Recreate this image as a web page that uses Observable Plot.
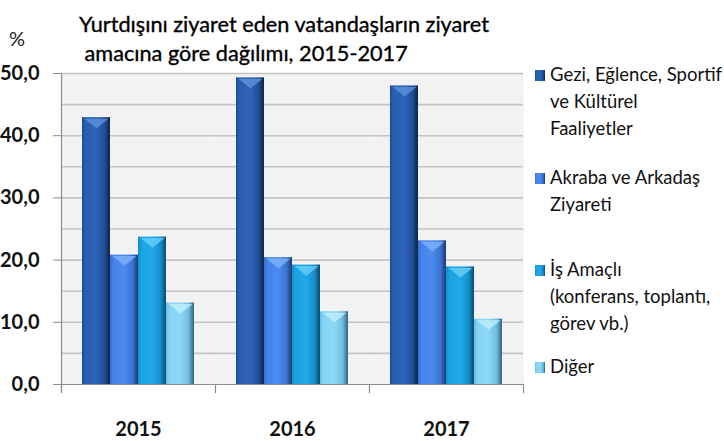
<!DOCTYPE html>
<html><head><meta charset="utf-8">
<script src="https://cdn.jsdelivr.net/npm/d3@7"></script>
<script src="https://cdn.jsdelivr.net/npm/@observablehq/plot@0.6"></script>
<style>
body{margin:0;background:#fff;}
#wrap{position:relative;width:724px;height:441px;overflow:hidden;font-family:Lato,"Open Sans",sans-serif;color:#111;}
#chart{position:absolute;left:0;top:0;}
.title{position:absolute;left:79px;top:10px;font-size:21.7px;font-weight:normal;line-height:29px;white-space:pre;color:#000;-webkit-text-stroke:0.35px #000;}
.pct{position:absolute;left:9px;top:26px;font-size:20px;color:#222;}
.leg{position:absolute;left:535px;font-size:18.5px;line-height:27px;color:#111;white-space:nowrap;}
.leg .sw{position:absolute;left:0;top:9px;width:10px;height:11px;}
.leg .tx{position:absolute;left:15px;top:0;}
</style></head><body><div id="wrap"><div id="chart"></div></div>
<script>
const years = ["2015", "2016", "2017"];
const categories = [
  "Gezi, Eğlence, Sportif ve Kültürel Faaliyetler",
  "Akraba ve Arkadaş Ziyareti",
  "İş Amaçlı (konferans, toplantı, görev vb.)",
  "Diğer"
];
const gezi   = [42.9, 49.3, 48.0];
const akraba = [20.8, 20.4, 23.1];
const isAmacli = [23.7, 19.2, 18.9];
const diger  = [13.1, 11.7, 10.5];
const yTicks = [0, 10, 20, 30, 40, 50];
const gridValues = [5, 10, 15, 20, 25, 30, 35, 40, 45, 50];
const titleLines = ["Yurtdışını ziyaret eden vatandaşların ziyaret", " amacına göre dağılımı, 2015-2017"];
const legendLines = [
  ["Gezi, Eğlence, Sportif", "ve Kültürel", "Faaliyetler"],
  ["Akraba ve Arkadaş", "Ziyareti"],
  ["İş Amaçlı", "(konferans, toplantı,", "görev vb.)"],
  ["Diğer"]
];

const series = [gezi, akraba, isAmacli, diger];
const rows = [];
years.forEach((yr, i) => categories.forEach((c, j) => rows.push({year: yr, cat: c, value: series[j][i]})));

const grads = [
  [["0", "#1d4c95"], ["0.12", "#2a5eb0"], ["0.5", "#2d63b8"], ["0.8", "#224f98"], ["1", "#0c2448"]],
  [["0", "#3670cf"], ["0.12", "#4483ea"], ["0.5", "#4b8bf2"], ["0.8", "#3b74d2"], ["1", "#1b3a70"]],
  [["0", "#128ecb"], ["0.12", "#1aa2e2"], ["0.5", "#20a9e9"], ["0.8", "#178fcb"], ["1", "#0a4a6e"]],
  [["0", "#69bde3"], ["0.12", "#84d3f6"], ["0.5", "#8dd8f8"], ["0.8", "#72bfe0"], ["1", "#2c6580"]]
];
const chevronColors = ["#5a8fd8", "#7eb0f8", "#62ccf6", "#bdeeff"];

const chevron = {
  draw(context, size) {
    const w = Math.sqrt(size / Math.PI);
    context.moveTo(-w, 0);
    context.lineTo(w, 0);
    context.lineTo(0, w * 0.8);
    context.closePath();
  }
};

const fmt = d => d.toFixed(1).replace(".", ",");
const axisColor = "#8c8c8c";

const plot = Plot.plot({
  width: 530,
  height: 441,
  marginLeft: 60,
  marginRight: 7,
  marginTop: 73,
  marginBottom: 57,
  style: {fontFamily: "Lato, 'Open Sans', sans-serif", color: "#111", background: "transparent", overflow: "visible"},
  fx: {domain: years, padding: 0, label: null, axis: null},
  x: {domain: categories, paddingInner: 0, paddingOuter: 0.74, axis: null},
  y: {domain: [0, 50], axis: null},
  color: {domain: categories, range: categories.map((_, i) => `url(#bargrad${i})`)},
  marks: [
    Plot.frame({fill: "#f2f2f2", stroke: null}),
    Plot.ruleY(gridValues, {stroke: "#c3c3c3", strokeWidth: 1.6}),
    Plot.ruleY([0], {stroke: axisColor, strokeWidth: 1.2}),
    Plot.frame({anchor: "left", stroke: axisColor, strokeWidth: 1.2, insetBottom: -8, facetAnchor: "left"}),
    Plot.frame({anchor: "left", stroke: axisColor, strokeWidth: 1.2, insetTop: 311, insetBottom: -8}),
    Plot.frame({anchor: "right", stroke: axisColor, strokeWidth: 1.2, insetTop: 311, insetBottom: -8, facetAnchor: "right"}),
    Plot.axisY({ticks: yTicks, tickSize: 8, tickPadding: 14, tickFormat: fmt, fontSize: 20, fontWeight: "bold", stroke: axisColor, label: null}),
    Plot.axisFx({anchor: "bottom", tickSize: 0, tickPadding: 37, fontSize: 20, fontWeight: "bold", label: null}),
    Plot.barY(rows, {fx: "year", x: "cat", y: "value", fill: "cat"}),
    ...categories.map((c, j) => Plot.dot(rows.filter(r => r.cat === c), {
      fx: "year", x: "cat", y: "value", symbol: chevron, r: 12, fill: chevronColors[j], fillOpacity: 0.85, stroke: null, dy: 1
    }))
  ]
});

// gradient defs
const ns = "http://www.w3.org/2000/svg";
const defs = document.createElementNS(ns, "defs");
grads.forEach((stops, i) => {
  const lg = document.createElementNS(ns, "linearGradient");
  lg.setAttribute("id", `bargrad${i}`);
  lg.setAttribute("x1", "0"); lg.setAttribute("x2", "1");
  lg.setAttribute("y1", "0"); lg.setAttribute("y2", "0");
  stops.forEach(([o, col]) => {
    const s = document.createElementNS(ns, "stop");
    s.setAttribute("offset", o);
    s.setAttribute("stop-color", col);
    lg.appendChild(s);
  });
  defs.appendChild(lg);
});
plot.insertBefore(defs, plot.firstChild);
document.getElementById("chart").appendChild(plot);

const wrap = document.getElementById("wrap");
const t = document.createElement("div");
t.className = "title";
t.textContent = titleLines.join("\n");
wrap.appendChild(t);
const p = document.createElement("div");
p.className = "pct";
p.textContent = "%";
wrap.appendChild(p);

const legendTops = [61, 164, 256, 353];
legendLines.forEach((lines, i) => {
  const g = document.createElement("div");
  g.className = "leg";
  g.style.top = legendTops[i] + "px";
  const sw = document.createElement("div");
  sw.className = "sw";
  sw.style.background = `linear-gradient(to right, ${grads[i].map(([o, c]) => c + " " + (o * 100) + "%").join(", ")})`;
  g.appendChild(sw);
  const tx = document.createElement("div");
  tx.className = "tx";
  tx.innerHTML = lines.map(l => l.replace(/&/g, "&amp;")).join("<br>");
  g.appendChild(tx);
  wrap.appendChild(g);
});
</script>
</body></html>
